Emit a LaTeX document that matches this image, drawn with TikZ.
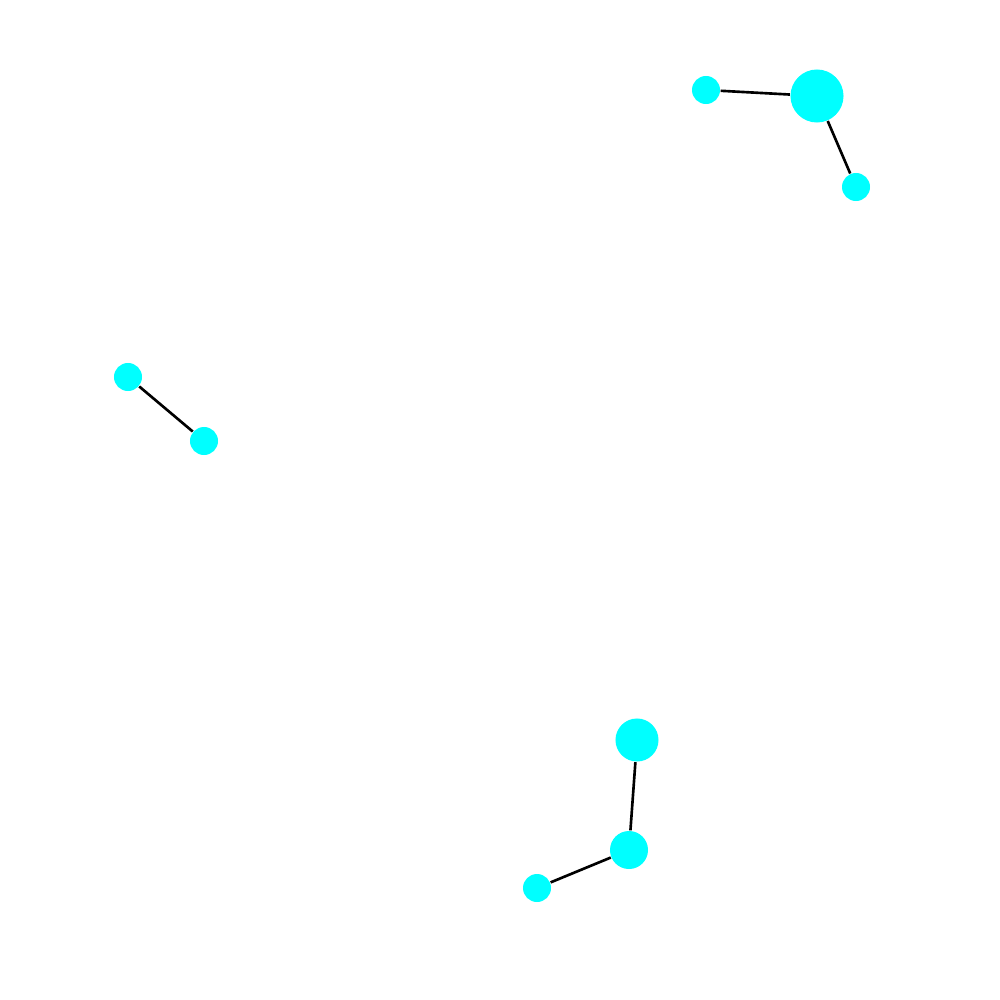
\documentclass[tikz,border=0pt]{standalone}
\definecolor{aqua}{RGB}{0,255,255}
\begin{document}
\begin{tikzpicture}[x=0.01cm,y=-0.01cm,
  vtx/.style={circle,fill=aqua,inner sep=0pt,draw=none},
  edge/.style={draw=black,line width=0.75pt}]
\useasboundingbox (0,0) rectangle (1000,1000);
\node[vtx,minimum size=0.28cm] (A) at (706,90) {};
\node[vtx,minimum size=0.53cm] (B) at (817,96) {};
\node[vtx,minimum size=0.28cm] (C) at (856,187) {};
\node[vtx,minimum size=0.28cm] (D) at (128,377) {};
\node[vtx,minimum size=0.28cm] (E) at (204,441) {};
\node[vtx,minimum size=0.43cm] (F) at (637,740) {};
\node[vtx,minimum size=0.38cm] (G) at (629,850) {};
\node[vtx,minimum size=0.28cm] (H) at (537,888) {};
\draw[edge] (A) -- (B);
\draw[edge] (B) -- (C);
\draw[edge] (D) -- (E);
\draw[edge] (F) -- (G);
\draw[edge] (G) -- (H);
\end{tikzpicture}
\end{document}
